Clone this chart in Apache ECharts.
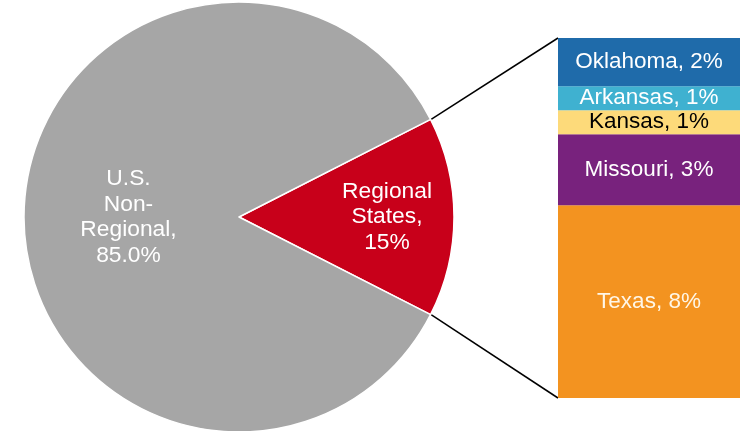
<!DOCTYPE html>
<html><head><meta charset="utf-8">
<script src="https://cdn.jsdelivr.net/npm/echarts@6/dist/echarts.min.js"></script>
<style>html,body{margin:0;padding:0;background:#fff}#c{width:750px;height:431px}</style>
</head><body><div id="c"></div>
<script>
// Pie data
const pieNames = ['Regional States', 'U.S. Non-Regional'];
const pieValues = [15, 85];
const pieLabels = ['Regional\nStates,\n15%', 'U.S.\nNon-\nRegional,\n85.0%'];
// Bar breakdown (top to bottom in picture)
const states = ['Oklahoma', 'Arkansas', 'Kansas', 'Missouri', 'Texas'];
const stateValues = [2.0, 1.0, 1.0, 2.95, 8.0];
const statePct = ['2%', '1%', '1%', '3%', '8%'];

const colors = {
  pie: ['#C8001A', '#A6A6A6'],
  bars: ['#1F6BAA', '#3FB1D0', '#FDDA7A', '#78227D', '#F39320'],
  barText: ['#fff', '#fff', '#000', '#fff', '#FFF6E6']
};
const FONT = 'Liberation Sans, Arial, sans-serif';
const cx = 239, cy = 217, R = 215;
const G = {left: 558, top: 38, width: 182, height: 360};

const chart = echarts.init(document.getElementById('c'));
const total = stateValues.reduce((a, b) => a + b, 0);
const half = pieValues[0] / (pieValues[0] + pieValues[1]) * 180;

const barSeries = [];
for (let i = states.length - 1; i >= 0; i--) {
  barSeries.push({
    type: 'bar', name: states[i], stack: 's', barWidth: '100%',
    data: [stateValues[i]],
    itemStyle: {color: colors.bars[i]},
    label: {show: true, position: 'inside', formatter: states[i] + ', ' + statePct[i],
      color: colors.barText[i], fontFamily: FONT, fontSize: 22.5},
    silent: true
  });
}

// connector endpoints computed from slice angle and bar grid extents
const a = half * Math.PI / 180;
const p1 = [cx + R * Math.cos(a), cy - R * Math.sin(a)];
const p2 = [cx + R * Math.cos(a), cy + R * Math.sin(a)];

chart.setOption({
  animation: false,
  grid: G,
  xAxis: {type: 'category', data: ['s'], show: false},
  yAxis: {type: 'value', min: 0, max: total, show: false},
  series: [
    {
      type: 'pie', center: [cx, cy], radius: [0, R], startAngle: half, clockwise: true,
      silent: true,
      data: pieNames.map((n, i) => ({name: n, value: pieValues[i],
        itemStyle: {color: colors.pie[i]},
        label: {show: i === 1}})),
      itemStyle: {borderColor: '#fff', borderWidth: 1.5},
      label: {position: 'inside', formatter: p => pieLabels[p.dataIndex],
        color: '#fff', fontFamily: FONT, fontSize: 22.8, lineHeight: 25.5, align: 'center'},
      labelLine: {show: false}
    },
    {
      type: 'pie', center: [cx, cy], radius: [97, 193], startAngle: half, clockwise: true,
      silent: true,
      data: pieNames.map((n, i) => ({name: n, value: pieValues[i],
        itemStyle: {color: 'rgba(0,0,0,0)'},
        label: {show: i === 0}})),
      label: {position: 'inside', formatter: p => pieLabels[p.dataIndex],
        color: '#fff', fontFamily: FONT, fontSize: 22.8, lineHeight: 25.5, align: 'center'},
      labelLine: {show: false}
    }
  ].concat(barSeries),
  graphic: [
    {type: 'line', shape: {x1: p1[0] - 1, y1: p1[1] + 1, x2: G.left, y2: G.top}, style: {stroke: '#000', lineWidth: 1.5}},
    {type: 'line', shape: {x1: p2[0] - 1, y1: p2[1] - 1, x2: G.left, y2: G.top + G.height}, style: {stroke: '#000', lineWidth: 1.5}}
  ]
});
</script></body></html>
